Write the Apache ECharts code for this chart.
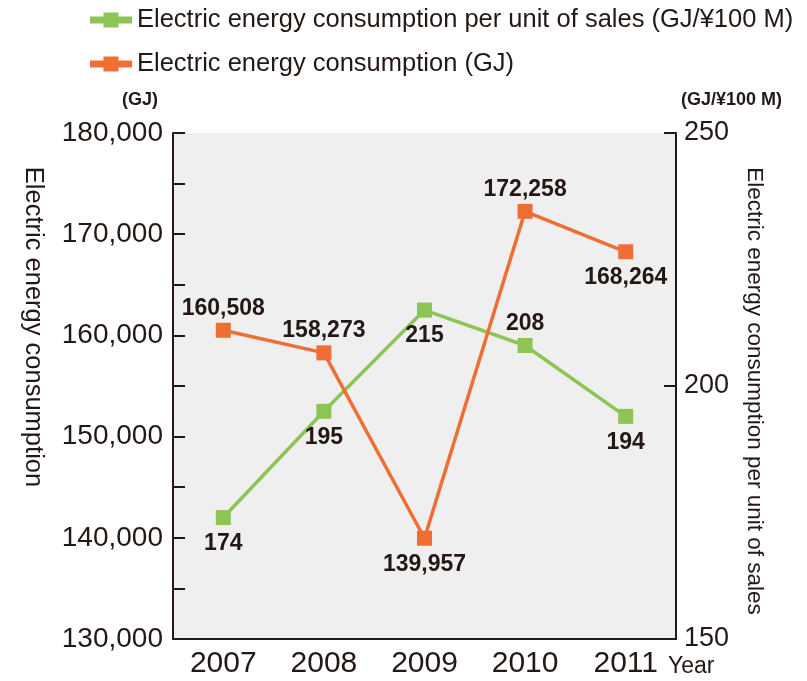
<!DOCTYPE html>
<html>
<head>
<meta charset="utf-8">
<script src="https://cdn.jsdelivr.net/npm/echarts@6/dist/echarts.min.js"></script>
<style>html,body{margin:0;padding:0;background:#fff}#c{width:807px;height:681px}</style>
</head>
<body>
<div id="c"></div>
<script>
var years = ['2007', '2008', '2009', '2010', '2011'];
var consumption = [160508, 158273, 139957, 172258, 168264];
var perUnit = [174, 195, 215, 208, 194];
var leftTicks = [130000, 140000, 150000, 160000, 170000, 180000];
var rightTicks = [150, 200, 250];

var SANS = "'Liberation Sans', Arial, sans-serif";
var TXT = '#231815';
var GREEN = '#8cc554';
var ORANGE = '#ef6e34';
var PLUS = 'path://M0,4 L13.5,4 L13.5,0 L28.5,0 L28.5,4 L42,4 L42,11 L28.5,11 L28.5,15 L13.5,15 L13.5,11 L0,11 Z';

var consPos = ['top', 'top', 'bottom', 'top', 'bottom'];
var unitPos = ['bottom', 'bottom', 'bottom', 'top', 'bottom'];

function fmt(v) { return String(v).replace(/\B(?=(\d{3})+(?!\d))/g, ','); }
function lbl(pos) { return { position: pos, distance: pos === 'top' ? 3 : 7 }; }

var chart = echarts.init(document.getElementById('c'));
chart.setOption({
  animation: false,
  backgroundColor: '#fff',
  grid: { left: 173, right: 131, top: 133, bottom: 42, show: true, backgroundColor: '#efefef', borderWidth: 0 },
  legend: {
    orient: 'vertical', left: 85, top: 0, itemWidth: 42, itemHeight: 15, itemGap: 14,
    data: [
      { name: 'Electric energy consumption per unit of sales (GJ/¥100 M)', icon: PLUS, itemStyle: { color: GREEN } },
      { name: 'Electric energy consumption (GJ)', icon: PLUS, itemStyle: { color: ORANGE } }
    ],
    textStyle: { fontFamily: SANS, fontSize: 25.5, color: TXT, lineHeight: 30 }
  },
  xAxis: {
    type: 'category', data: years, boundaryGap: true,
    axisLine: { lineStyle: { color: TXT, width: 2 } },
    axisTick: { inside: true, length: 12, lineStyle: { color: TXT, width: 2 } },
    axisLabel: { fontFamily: SANS, fontSize: 30, color: TXT, margin: 10 }
  },
  yAxis: [{
    type: 'value', min: 130000, max: 180000, interval: 5000,
    axisLine: { show: true, lineStyle: { color: TXT, width: 2 } },
    axisTick: { show: true, inside: true, length: 12, lineStyle: { color: TXT, width: 2 } },
    splitLine: { show: false },
    axisLabel: { fontFamily: SANS, fontSize: 28, color: TXT, margin: 10,
      formatter: function (v) { return leftTicks.indexOf(v) >= 0 ? fmt(v) : ''; } }
  }, {
    type: 'value', min: 150, max: 250, interval: 50, position: 'right',
    axisLine: { show: true, lineStyle: { color: TXT, width: 2 } },
    axisTick: { show: true, inside: true, length: 12, lineStyle: { color: TXT, width: 2 } },
    splitLine: { show: false },
    axisLabel: { fontFamily: SANS, fontSize: 27, color: TXT, margin: 8,
      formatter: function (v) { return rightTicks.indexOf(v) >= 0 ? String(v) : ''; } }
  }],
  series: [{
    name: 'Electric energy consumption per unit of sales (GJ/¥100 M)',
    type: 'line', yAxisIndex: 1, color: GREEN,
    symbol: 'rect', symbolSize: 15,
    lineStyle: { width: 3.5, color: GREEN }, itemStyle: { color: GREEN },
    data: perUnit.map(function (v, i) {
      return { value: v, label: lbl(unitPos[i]) };
    }),
    label: { show: true, fontFamily: SANS, fontWeight: 'bold', fontSize: 23, color: TXT },
    z: 3
  }, {
    name: 'Electric energy consumption (GJ)',
    type: 'line', yAxisIndex: 0, color: ORANGE,
    symbol: 'rect', symbolSize: 15,
    lineStyle: { width: 3.5, color: ORANGE }, itemStyle: { color: ORANGE },
    data: consumption.map(function (v, i) {
      return { value: v, label: lbl(consPos[i]) };
    }),
    label: { show: true, fontFamily: SANS, fontWeight: 'bold', fontSize: 23, color: TXT,
      formatter: function (p) { return fmt(p.value); } },
    z: 4
  }],
  graphic: [
    { type: 'text', left: 122, top: 91, style: { text: '(GJ)', font: 'bold 18px ' + SANS, fill: TXT } },
    { type: 'text', left: 681, top: 91, style: { text: '(GJ/¥100 M)', font: 'bold 18px ' + SANS, fill: TXT } },
    { type: 'text', left: 668, top: 655, style: { text: 'Year', font: '23px ' + SANS, fill: TXT } },
    { type: 'text', x: 33, y: 327, rotation: -Math.PI / 2,
      style: { text: 'Electric energy consumption', font: '25.5px ' + SANS, fill: TXT, align: 'center', verticalAlign: 'middle' } },
    { type: 'text', x: 754, y: 391, rotation: -Math.PI / 2,
      style: { text: 'Electric energy consumption per unit of sales', font: '22.5px ' + SANS, fill: TXT, align: 'center', verticalAlign: 'middle' } }
  ]
});
</script>
</body>
</html>
